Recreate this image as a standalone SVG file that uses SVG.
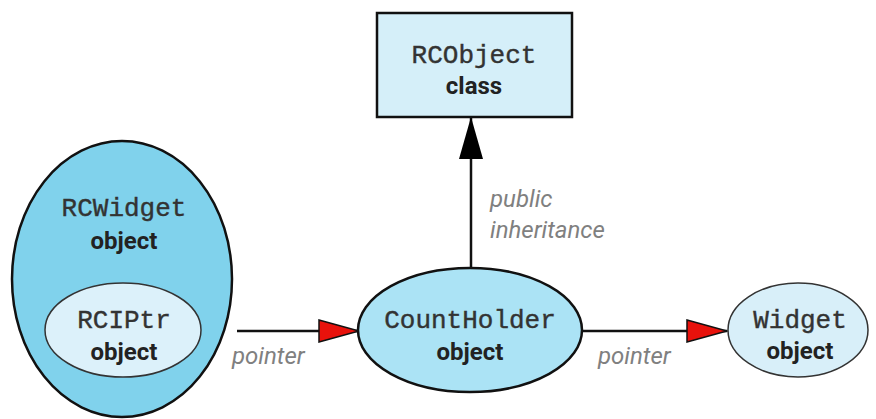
<svg xmlns="http://www.w3.org/2000/svg" width="876" height="419" viewBox="0 0 876 419">
<style>
.code{font-family:"Liberation Mono","Courier New",monospace;font-size:26px;fill:#333;stroke:#333;stroke-width:0.4;text-anchor:middle}
.kind{font-family:Roboto,"Liberation Sans",sans-serif;font-weight:bold;font-size:24px;fill:#222;text-anchor:middle}
.lbl{font-family:Roboto,"Liberation Sans",sans-serif;font-style:italic;font-size:24px;fill:#808080}
.edge{stroke:#111;stroke-width:2.5;fill:none}
.node{stroke:#111;stroke-width:2.5}
</style>
<defs>
<marker id="red" markerUnits="userSpaceOnUse" viewBox="0 0 42 24" refX="41" refY="12" markerWidth="42" markerHeight="24" orient="auto">
<path d="M1,1 L41,12 L1,23 Z" fill="#e8120c" stroke="#111" stroke-width="1.5"/>
</marker>
<marker id="blk" markerUnits="userSpaceOnUse" viewBox="0 0 44 26" refX="43" refY="13" markerWidth="44" markerHeight="26" orient="auto">
<path d="M1,1 L43,13 L1,25 Z" fill="#000"/>
</marker>
</defs>
<g id="connectors">
<line class="edge" x1="471" y1="268" x2="471" y2="117" marker-end="url(#blk)"/>
<line class="edge" x1="237" y1="331" x2="359" y2="331" marker-end="url(#red)"/>
<line class="edge" x1="582" y1="331" x2="727" y2="331" marker-end="url(#red)"/>
<text class="lbl" x="490" y="207">public</text>
<text class="lbl" x="490" y="238">inheritance</text>
<text class="lbl" x="232" y="364">pointer</text>
<text class="lbl" x="598" y="364">pointer</text>
</g>
<g id="rcobject">
<rect class="node" x="377" y="13" width="195" height="104" fill="#d5eff9"/>
<text class="code" x="474" y="63">RCObject</text>
<text class="kind" x="474" y="94">class</text>
</g>
<g id="rcwidget">
<ellipse class="node" cx="122" cy="279" rx="110" ry="138" fill="#80d2ec"/>
<text class="code" x="124" y="216">RCWidget</text>
<text class="kind" x="124" y="249">object</text>
</g>
<g id="rciptr">
<ellipse cx="123" cy="330" rx="78" ry="47" fill="#dcf1fa" stroke="#333" stroke-width="1.5"/>
<text class="code" x="124" y="328">RCIPtr</text>
<text class="kind" x="124" y="360">object</text>
</g>
<g id="countholder">
<ellipse class="node" cx="470" cy="330" rx="112" ry="62" fill="#abe3f5"/>
<text class="code" x="470" y="328">CountHolder</text>
<text class="kind" x="470" y="360">object</text>
</g>
<g id="widget">
<ellipse cx="798" cy="330" rx="70" ry="47" fill="#d8eff9" stroke="#333" stroke-width="1.5"/>
<text class="code" x="800" y="328">Widget</text>
<text class="kind" x="800" y="359">object</text>
</g>
</svg>
